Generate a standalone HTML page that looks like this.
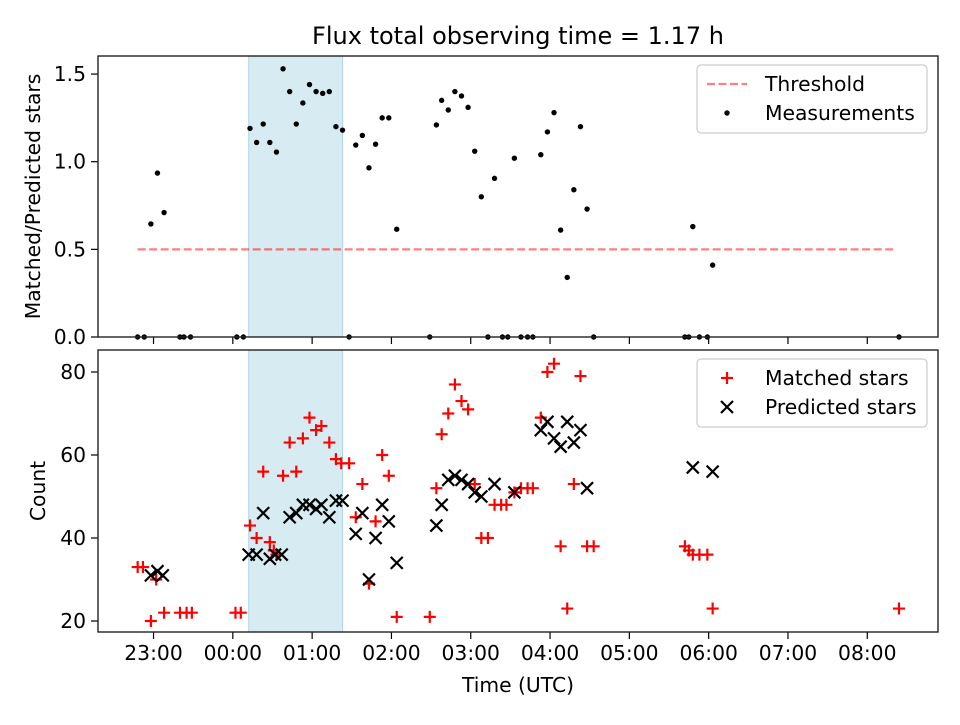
<!DOCTYPE html>
<html><head><meta charset="utf-8"><style>
body{margin:0;background:#fff}
svg{font-family:"DejaVu Sans","Liberation Sans",sans-serif}
</style></head><body>
<svg id="c" width="960" height="720"></svg>
<script>
// times in minutes since 00:00 UTC
const measTimes=[-72,-67,-62,-57,-52,-40,-37,-32,3,8,13,18,23,28,33,38,43,48,53,58,63,68,73,78,83,88,93,98,103,108,113,118,124,149,154,158,163,168,173,178,183,188,193,198,204,208,213,218,223,227,233,238,243,248,253,258,263,268,273,342,345,348,353,359,363,504];
const measValues=[0,0,0.645,0.935,0.71,0,0,0,0,0,1.19,1.11,1.215,1.11,1.055,1.53,1.40,1.215,1.335,1.44,1.40,1.39,1.40,1.20,1.18,0,1.095,1.15,0.965,1.10,1.25,1.25,0.615,0,1.21,1.35,1.295,1.40,1.375,1.31,1.06,0.80,0,0.905,0,0,1.02,0,0,0,1.04,1.17,1.28,0.61,0.34,0.84,1.20,0.73,0,0,0,0.63,0,0,0.41,0];
const matchedTimes=[-72,-68,-62,-58,-52,-40,-35,-31,2,6,13,18,23,28,31,33,38,43,48,53,58,63,67,73,78,82,88,93,98,103,108,113,118,124,149,154,158,163,168,173,178,183,188,193,198,203,207,213,218,223,227,233,238,243,248,253,258,263,268,273,342,345,348,353,359,363,504];
const matchedValues=[33,33,20,30,22,22,22,22,22,22,43,40,56,39,37,36,55,63,56,64,69,66,67,63,59,58,58,45,53,29,44,60,55,21,21,52,65,70,77,73,71,53,40,40,48,48,48,51,52,52,52,69,80,82,38,23,53,79,38,38,38,37,36,36,36,23,23];
const predTimes=[-62,-57,-53,12,18,23,28,32,37,43,48,53,58,63,67,73,78,83,93,98,103,108,113,118,124,154,158,163,168,173,178,183,188,198,213,233,238,243,248,253,258,263,268,348,363];
const predValues=[31,32,31,36,36,46,35,36,36,45,46,48,48,47,48,45,49,49,41,46,30,40,48,44,34,43,48,54,55,54,53,51,50,53,51,66,68,64,62,68,63,66,52,57,56];
const threshold=[0.5,-72,501];
const span=[12,83];
const xTickVals=[-60,0,60,120,180,240,300,360,420,480];
const xTickLabels=["23:00","00:00","01:00","02:00","03:00","04:00","05:00","06:00","07:00","08:00"];
const topTicks=[0,0.5,1.0,1.5], topTickLabels=["0.0","0.5","1.0","1.5"];
const botTicks=[20,40,60,80], botTickLabels=["20","40","60","80"];

const NS="http://www.w3.org/2000/svg", svg=document.getElementById('c');
function mk(t,a,p){const e=document.createElementNS(NS,t);for(const k in a)e.setAttribute(k,a[k]);(p||svg).appendChild(e);return e;}
const L=98,R=938,FS=20.3;
const x=m=>L+(m+102)/(533.5+102)*(R-L);
const T={top:56,bot:337,min:0,max:1.603}, B={top:350,bot:632,min:17.35,max:85.3};
const yT=v=>T.bot-(v-T.min)/(T.max-T.min)*(T.bot-T.top);
const yB=v=>B.bot-(v-B.min)/(B.max-B.min)*(B.bot-B.top);

let t=mk('text',{x:518,y:44,'text-anchor':'middle','font-size':24});t.textContent="Flux total observing time = 1.17 h";



function panel(P,yf,ticks,labels,name,ylab,ylx){
  const g=mk('g',{});
  
  
  const s=mk('rect',{x:x(span[0]),y:P.top,width:x(span[1])-x(span[0]),height:P.bot-P.top,fill:'#add8e6','fill-opacity':0.5,stroke:'#add8e6'},g);
  
  
  ticks.forEach((v,i)=>{const yy=yf(v);mk('line',{x1:L-7,x2:L,y1:yy,y2:yy,stroke:'#000','stroke-width':1.2},g);
    const tt=mk('text',{x:L-12,y:yy+7,'text-anchor':'end','font-size':FS},g);tt.textContent=labels[i];
    
    });
  xTickVals.forEach(v=>{mk('line',{x1:x(v),x2:x(v),y1:P.bot,y2:P.bot+7,stroke:'#000','stroke-width':1.2},g);});
  const yl=mk('text',{x:0,y:0,'text-anchor':'middle','font-size':FS,transform:`translate(${ylx},${(P.top+P.bot)/2}) rotate(-90)`},g);yl.textContent=ylab;
  
  
  return g;
}
const gT=panel(T,yT,topTicks,topTickLabels,'top-panel','Matched/Predicted stars',40);
const gB=panel(B,yB,botTicks,botTickLabels,'bottom-panel','Count',45);

const th=mk('line',{x1:x(threshold[1]),x2:x(threshold[2]),y1:yT(threshold[0]),y2:yT(threshold[0]),stroke:'#ff0000','stroke-opacity':0.5,'stroke-width':2.2,'stroke-dasharray':'8,3.5'},gT);


measTimes.forEach((m,i)=>{const c=mk('circle',{cx:x(m),cy:yT(measValues[i]),r:2.7,fill:'#000'},gT);
  
  });
function plus(cx,cy,g,col){return mk('path',{d:`M${cx-6} ${cy}H${cx+6}M${cx} ${cy-6}V${cy+6}`,stroke:col,'stroke-width':2.2},g);}
function cross(cx,cy,g){return mk('path',{d:`M${cx-6} ${cy-6}L${cx+6} ${cy+6}M${cx-6} ${cy+6}L${cx+6} ${cy-6}`,stroke:'#000','stroke-width':2.2},g);}
matchedTimes.forEach((m,i)=>{const p=plus(x(m),yB(matchedValues[i]),gB,'#ff0000');
  
  });
predTimes.forEach((m,i)=>{const p=cross(x(m),yB(predValues[i]),gB);
  
  });

[T,B].forEach(P=>mk('rect',{x:L,y:P.top,width:R-L,height:P.bot-P.top,fill:'none',stroke:'#222','stroke-width':1.4}));
xTickVals.forEach((v,i)=>{const tt=mk('text',{x:x(v),y:B.bot+28,'text-anchor':'middle','font-size':FS});tt.textContent=xTickLabels[i];
  
  });
const xl=mk('text',{x:518,y:692,'text-anchor':'middle','font-size':FS});xl.textContent="Time (UTC)";



function legend(y0,items,name){
  const g=mk('g',{});
  
  
  mk('rect',{x:697,y:y0,width:230,height:68,rx:4,fill:'#fff','fill-opacity':0.8,stroke:'#ccc','stroke-width':1.2},g);
  items.forEach((it,i)=>{const cy=y0+19+i*29;it[0](g,cy);
    const tt=mk('text',{x:765,y:cy+7,'font-size':FS},g);tt.textContent=it[1];
    
    });
}
legend(65,[[(g,cy)=>mk('line',{x1:707,x2:747,y1:cy,y2:cy,stroke:'#ff0000','stroke-opacity':0.5,'stroke-width':2.2,'stroke-dasharray':'8,3.5'},g),'Threshold'],
 [(g,cy)=>mk('circle',{cx:727,cy:cy,r:2.7,fill:'#000'},g),'Measurements']],'top-legend');
legend(359,[[(g,cy)=>plus(727,cy,g,'#ff0000'),'Matched stars'],[(g,cy)=>cross(727,cy,g),'Predicted stars']],'bottom-legend');
</script>
</body></html>
